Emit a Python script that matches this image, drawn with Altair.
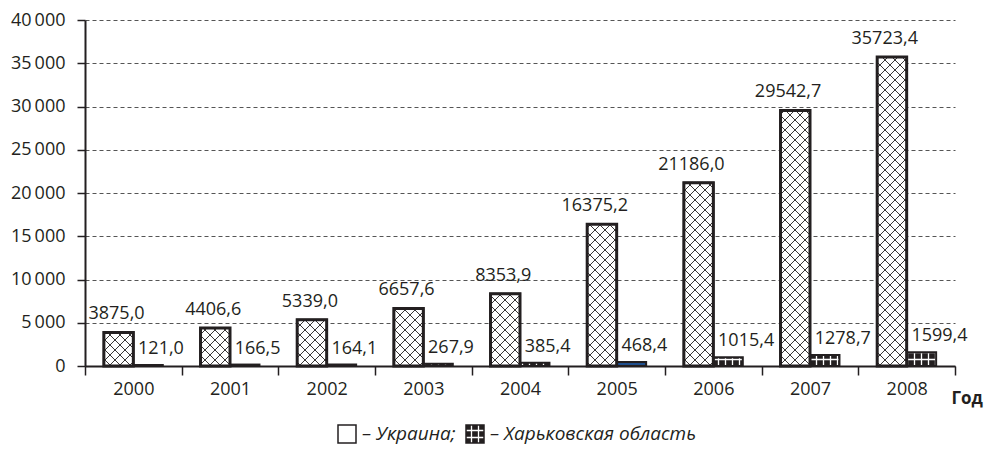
import altair as alt
import pandas as pd
import jinja2

# ---- data ----
years = ["2000", "2001", "2002", "2003", "2004", "2005", "2006", "2007", "2008"]
ukraine = [3875.0, 4406.6, 5339.0, 6657.6, 8353.9, 16375.2, 21186.0, 29542.7, 35723.4]
kharkiv = [121.0, 166.5, 164.1, 267.9, 385.4, 468.4, 1015.4, 1278.7, 1599.4]
series_names = ["Украина", "Харьковская область"]
y_ticks = [0, 5000, 10000, 15000, 20000, 25000, 30000, 35000, 40000]

rows = []
for i, yr in enumerate(years):
    rows.append({"year": yr, "series": series_names[0], "value": ukraine[i]})
    rows.append({"year": yr, "series": series_names[1], "value": kharkiv[i]})
df = pd.DataFrame(rows)

INK = "#231f20"
FONT = "Open Sans"

x = alt.X(
    "year:N",
    title="Год",
    scale=alt.Scale(paddingInner=0, paddingOuter=0),
    axis=alt.Axis(
        labelAngle=0, tickBand="extent", tickSize=9, tickWidth=1.5, tickColor=INK,
        domainColor=INK, domainWidth=2, labelFont=FONT, labelFontSize=18,
        labelColor=INK, labelPadding=5, grid=False,
        titleX=866, titleY=37, titleAlign="left", titleBaseline="alphabetic",
        titleFont=FONT, titleFontSize=17, titleFontWeight="bold", titleColor=INK,
    ),
)
xo = alt.XOffset("series:N", scale=alt.Scale(domain=series_names, paddingOuter=0.64, paddingInner=0))
y = alt.Y(
    "value:Q",
    title=None,
    scale=alt.Scale(domain=[0, 40000], nice=False),
    axis=alt.Axis(
        values=y_ticks,
        labelExpr="replace(format(datum.value, ','), ',', '\u2009')",
        tickSize=8, tickWidth=1.5, tickColor=INK, domainColor=INK, domainWidth=2,
        labelFont=FONT, labelFontSize=18, labelColor=INK, labelPadding=12,
        grid=True, gridDash=[4, 3], gridColor="#555555", gridWidth=1,
    ),
)

base = alt.Chart(df).encode(x=x, xOffset=xo, y=y)

legend = alt.Legend(
    title=None, orient="none", legendX=252, legendY=404, direction="horizontal",
    symbolType="square", symbolSize=324, symbolStrokeColor=INK, symbolStrokeWidth=1.5,
    labelFont=FONT, labelFontStyle="italic", labelFontSize=19, labelColor=INK,
    labelOffset=5, columnPadding=7, labelLimit=0, padding=0,
    labelExpr="'– ' + datum.label + (datum.label == 'Украина' ? ';' : '')",
)

bars = base.mark_bar(stroke=INK, strokeWidth=2).encode(
    fill=alt.condition(
        "datum.year == '2005' && datum.series == 'Харьковская область'",
        alt.value("#1f4e8c"),
        alt.Fill("series:N", scale=alt.Scale(domain=series_names, range=["white", "url(#grid)"]), legend=legend),
    )
)

ukr_bars = base.transform_filter(alt.datum.series == series_names[0]).mark_bar(
    fill="url(#cross)", stroke=INK, strokeWidth=3
)

lab = "replace(format(datum.value, '.1f'), '.', ',')"
ukr_text = base.transform_filter(alt.datum.series == series_names[0]).transform_calculate(
    label=lab
).mark_text(
    align="right", baseline="alphabetic", dx=26, dy=-13, font=FONT, fontSize=18, color=INK
).encode(text="label:N")

kh_text = base.transform_filter(alt.datum.series == series_names[1]).transform_calculate(
    label=lab
).mark_text(
    align="left", baseline="alphabetic", dx=-10, dy=-11, font=FONT, fontSize=18, color=INK
).encode(text="label:N")

chart = alt.layer(bars, ukr_bars, ukr_text, kh_text).properties(
    width=870, height=346,
    autosize=alt.AutoSizeParams(type="none"),
    padding={"left": 77, "top": 12, "right": 32, "bottom": 80},
).configure_view(stroke=None)

TEMPLATE = jinja2.Template("""<!DOCTYPE html>
<html>
<head>
  <meta charset="utf-8">
  <style>
    #{{ output_div }}.vega-embed { width: 100%; display: flex; }
    #{{ output_div }}.vega-embed details,
    #{{ output_div }}.vega-embed details summary { position: relative; }
  </style>
  <script type="text/javascript" src="{{ base_url }}/vega@{{ vega_version }}"></script>
  <script type="text/javascript" src="{{ base_url }}/vega-lite@{{ vegalite_version }}"></script>
  <script type="text/javascript" src="{{ base_url }}/vega-embed@{{ vegaembed_version }}"></script>
</head>
<body>
  <svg width="0" height="0" style="position:absolute">
    <defs>
      <pattern id="cross" patternUnits="userSpaceOnUse" width="10" height="10">
        <rect width="10" height="10" fill="white"/>
        <path d="M0,0 L10,10 M10,0 L0,10" stroke="#231f20" stroke-width="0.9"/>
      </pattern>
      <pattern id="grid" patternUnits="userSpaceOnUse" width="7" height="7">
        <rect width="7" height="7" fill="#231f20"/>
        <path d="M0,3.5 H7 M3.5,0 V7" stroke="white" stroke-width="1.3"/>
      </pattern>
    </defs>
  </svg>
  <div id="{{ output_div }}"></div>
  <script>
    (function(vegaEmbed) {
      var spec = {{ spec }};
      var embedOpt = {{ embed_options }};
      function showError(el, error){
          el.innerHTML = ('<div style="color:red;"><p>JavaScript Error: ' + error.message + '</p></div>');
          throw error;
      }
      const el = document.getElementById('{{ output_div }}');
      vegaEmbed("#{{ output_div }}", spec, embedOpt).catch(error => showError(el, error));
    })(vegaEmbed);
  </script>
</body>
</html>
""")

chart.save("out.html", embed_options={"renderer": "svg", "actions": False}, template=TEMPLATE)
